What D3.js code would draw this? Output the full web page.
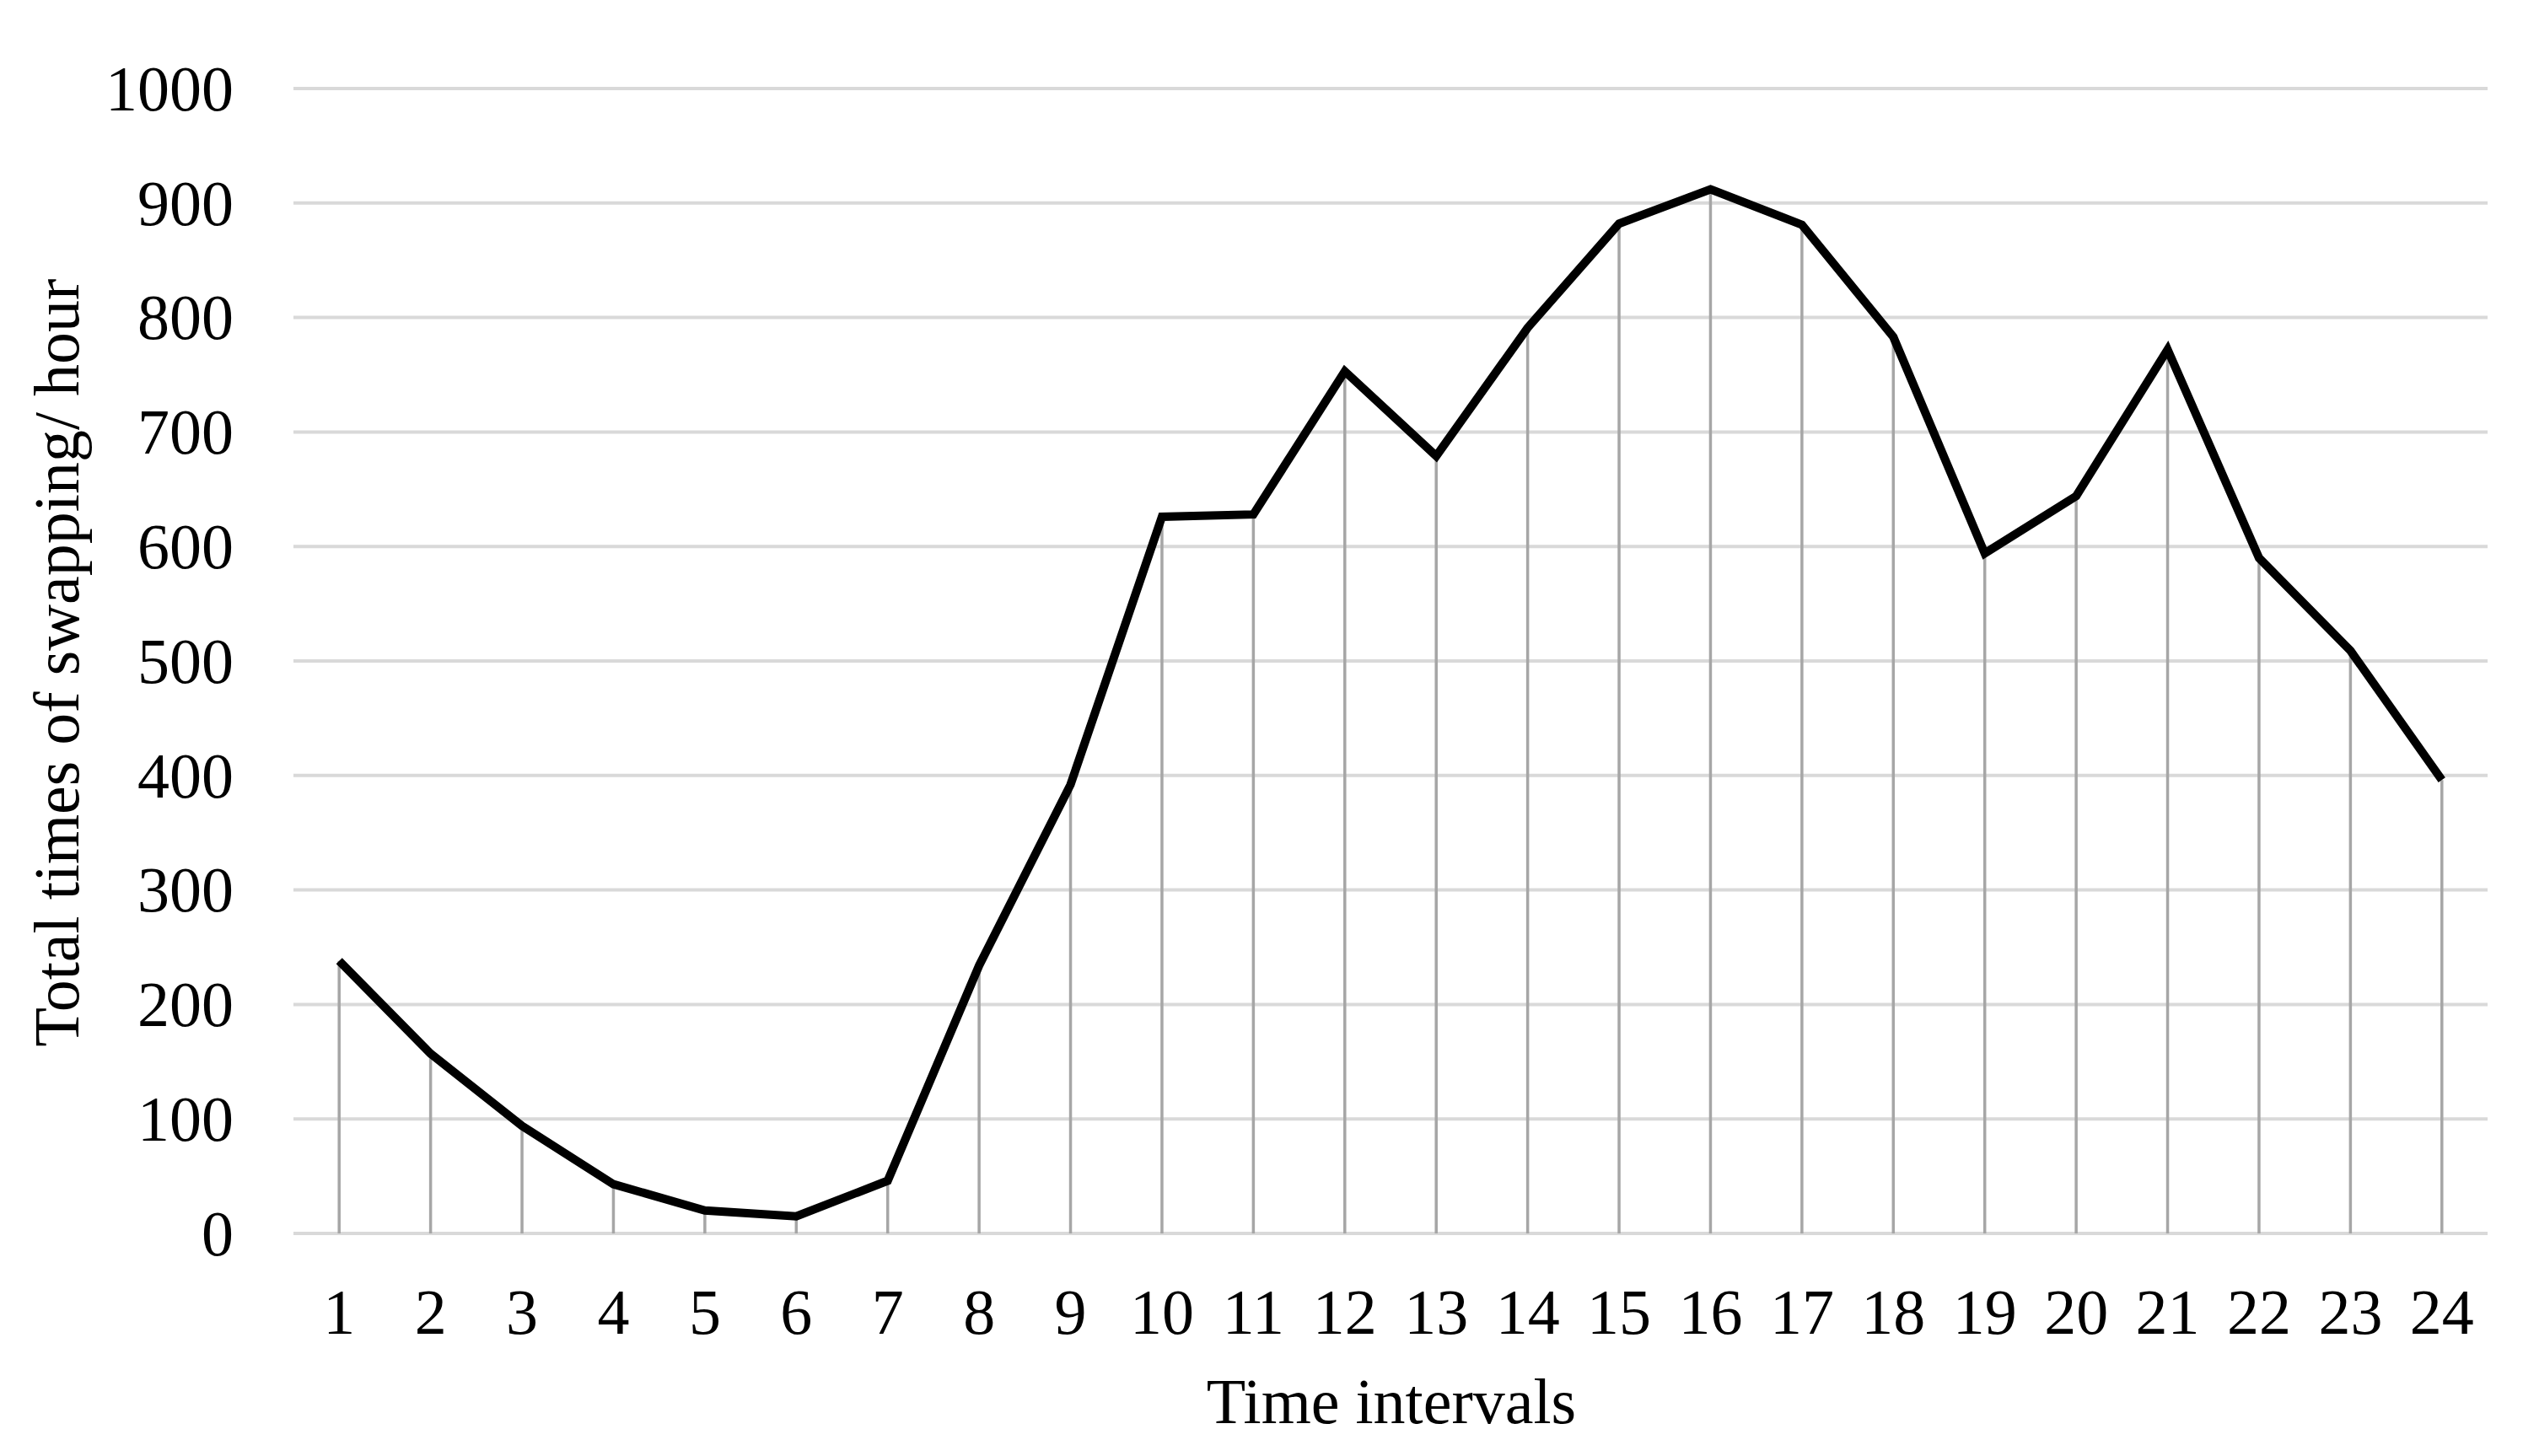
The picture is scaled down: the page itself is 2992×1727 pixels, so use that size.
<!DOCTYPE html>
<html lang="en">
<head>
<meta charset="UTF-8">
<title>Total times of swapping per hour</title>
<script src="https://d3js.org/d3.v7.min.js"></script>
<style>
    body { margin: 0; background: #fff; }
    svg { display: block; }
    text { font-family: "Liberation Serif", "Times New Roman", serif; fill: #000; }
    .grid line { stroke: #d9d9d9; stroke-width: 4px; }
    .drop { stroke: #a6a6a6; stroke-width: 3.5px; }
    .series { fill: none; stroke: #000; stroke-width: 10px; stroke-linejoin: miter; }
</style>
</head>
<body>
<div id="chart"></div>
<script>
    // time intervals (x categories)
    const intervals = d3.range(1, 25).map(String);
    // total swaps per hour
    const swaps = [238, 157, 94, 43, 20, 15, 46, 234, 392, 626, 628, 753,
                   679, 791, 882, 912, 881, 783, 594, 644, 772, 590, 509, 396];
    const yTicks = [0, 100, 200, 300, 400, 500, 600, 700, 800, 900, 1000];

    const width = 2992, height = 1727;
    const margin = { top: 105, right: 42, bottom: 264, left: 348 };

    const svg = d3.select("#chart").append("svg")
        .attr("width", width)
        .attr("height", height);

    const x = d3.scaleBand()
        .domain(intervals)
        .range([margin.left, width - margin.right])
        .padding(0);

    const y = d3.scaleLinear()
        .domain([0, 1000])
        .range([height - margin.bottom, margin.top]);

    // horizontal gridlines
    svg.append("g")
        .attr("class", "grid")
        .selectAll("line")
        .data(yTicks)
        .join("line")
        .attr("x1", margin.left)
        .attr("x2", width - margin.right)
        .attr("y1", d => y(d))
        .attr("y2", d => y(d));

    // y tick labels
    svg.append("g")
        .selectAll("text")
        .data(yTicks)
        .join("text")
        .attr("x", 277)
        .attr("y", d => y(d))
        .attr("dy", "0.34em")
        .attr("text-anchor", "end")
        .style("font-size", "76px")
        .text(d => d);

    const cx = d => x(d) + x.bandwidth() / 2;

    // drop lines from each point to the axis
    svg.append("g")
        .selectAll("line")
        .data(intervals)
        .join("line")
        .attr("class", "drop")
        .attr("x1", cx)
        .attr("x2", cx)
        .attr("y1", (d, i) => y(swaps[i]))
        .attr("y2", y(0));

    // x tick labels
    svg.append("g")
        .selectAll("text")
        .data(intervals)
        .join("text")
        .attr("x", cx)
        .attr("y", 1582)
        .attr("text-anchor", "middle")
        .style("font-size", "76px")
        .text(d => d);

    // the line
    const line = d3.line()
        .x((d, i) => cx(intervals[i]))
        .y(d => y(d));

    svg.append("path")
        .datum(swaps)
        .attr("class", "series")
        .attr("d", line);

    // axis titles
    svg.append("text")
        .attr("x", 1650)
        .attr("y", 1688)
        .attr("text-anchor", "middle")
        .style("font-size", "76px")
        .text("Time intervals");

    svg.append("text")
        .attr("transform", "translate(67,786) rotate(-90)")
        .attr("dy", "0.34em")
        .attr("text-anchor", "middle")
        .style("font-size", "76px")
        .text("Total times of swapping/ hour");
</script>
</body>
</html>
